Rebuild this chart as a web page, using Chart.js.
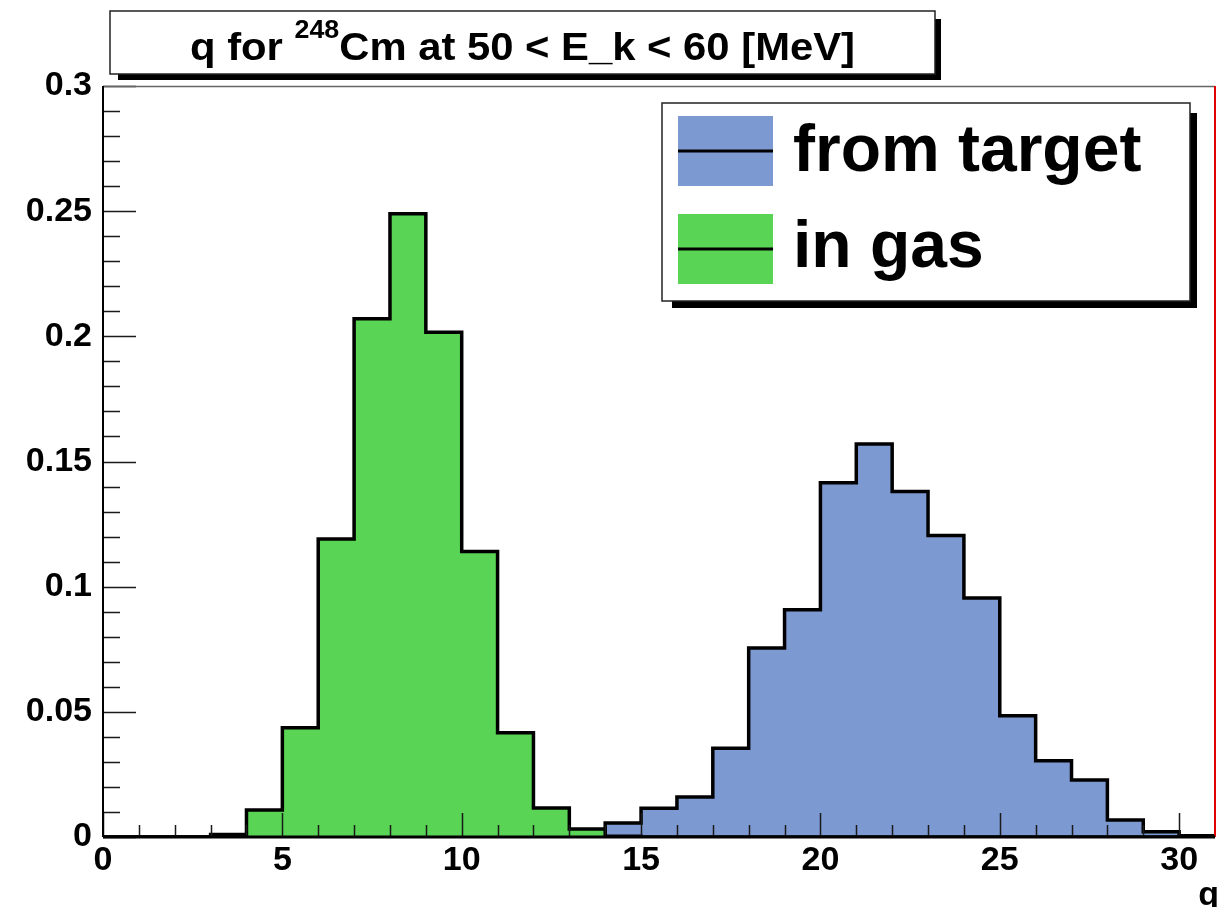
<!DOCTYPE html>
<html>
<head>
<meta charset="utf-8">
<script src="https://cdn.jsdelivr.net/npm/chart.js@4.4.1/dist/chart.umd.min.js"></script>
<style>
  html, body { margin: 0; padding: 0; background: #fff; }
  #wrap { width: 1227px; height: 907px; }
</style>
</head>
<body>
<div id="wrap"><canvas id="qChart" width="1227" height="907"></canvas></div>
<script>
'use strict';

// bin edges of the charge-state histograms (31 bins of width 1)
var binEdges = [0, 1, 2, 3, 4, 5, 6, 7, 8, 9, 10, 11, 12, 13, 14, 15, 16, 17, 18, 19, 20,
                21, 22, 23, 24, 25, 26, 27, 28, 29, 30, 31];
var fromTarget = [0, 0, 0, 0, 0, 0, 0, 0, 0, 0, 0, 0, 0, 0,
                  0.0056, 0.0115, 0.016, 0.0355, 0.0755, 0.0908, 0.1415, 0.157, 0.138,
                  0.1204, 0.0955, 0.0484, 0.0305, 0.0228, 0.0068, 0.0021, 0.0005];
var inGas = [0, 0, 0, 0.001, 0.0108, 0.0436, 0.119, 0.207, 0.249, 0.2016, 0.114,
             0.0416, 0.0116, 0.0032, 0.0003, 0, 0, 0, 0, 0, 0, 0, 0, 0, 0, 0, 0, 0, 0, 0, 0];
var xTicks = [0, 5, 10, 15, 20, 25, 30];
var yTicks = [0, 0.05, 0.1, 0.15, 0.2, 0.25, 0.3];
var seriesNames = ['from target', 'in gas'];
var seriesColors = ['#7d99d1', '#59d454'];

var FONT = "'Liberation Sans', Arial, Helvetica, sans-serif";

// left edge of every bin carries its content, last edge closes the outline at zero
function toSteps(values) {
    var pts = [];
    for (var i = 0; i < values.length; ++i) {
        pts.push({ x: binEdges[i], y: values[i] });
    }
    pts.push({ x: binEdges[values.length], y: 0 });
    return pts;
}

function histDataset(label, values, color) {
    return {
        label: label,
        data: toSteps(values),
        stepped: true,
        fill: 'origin',
        backgroundColor: color,
        borderColor: '#000',
        borderWidth: 3.5,
        borderJoinStyle: 'miter',
        pointRadius: 0,
        pointHoverRadius: 0,
        tension: 0
    };
}

// ROOT style frame: inward ticks, grey top edge, red right edge
var framePlugin = {
    id: 'frame',
    afterDatasetsDraw: function (chart) {
        var ctx = chart.ctx;
        var area = chart.chartArea;
        var xs = chart.scales.x;
        var ys = chart.scales.y;
        ctx.save();
        ctx.strokeStyle = '#1a1a1a';
        ctx.lineWidth = 1.5;
        ctx.beginPath();
        for (var q = 0; q <= 30; ++q) {
            var px = Math.round(xs.getPixelForValue(q)) + 0.5;
            var len = (q % 5 === 0) ? 24 : 12;
            ctx.moveTo(px, area.bottom);
            ctx.lineTo(px, area.bottom - len);
        }
        for (var k = 0; k <= 30; ++k) {
            var py = Math.round(ys.getPixelForValue(k / 100)) + 0.5;
            var ylen = (k % 5 === 0) ? 33 : 17;
            ctx.moveTo(area.left, py);
            ctx.lineTo(area.left + ylen, py);
        }
        ctx.stroke();

        ctx.lineWidth = 1.5;
        ctx.strokeStyle = '#666';
        ctx.beginPath();
        ctx.moveTo(area.left, area.top + 0.5);
        ctx.lineTo(area.right, area.top + 0.5);
        ctx.stroke();

        ctx.strokeStyle = '#e00000';
        ctx.lineWidth = 2;
        ctx.beginPath();
        ctx.moveTo(area.right, area.top);
        ctx.lineTo(area.right, area.bottom);
        ctx.stroke();

        ctx.strokeStyle = '#000';
        ctx.lineWidth = 2;
        ctx.beginPath();
        ctx.moveTo(area.left, area.top);
        ctx.lineTo(area.left, area.bottom);
        ctx.stroke();
        ctx.lineWidth = 3;
        ctx.beginPath();
        ctx.moveTo(area.left, area.bottom);
        ctx.lineTo(area.right, area.bottom);
        ctx.stroke();
        ctx.restore();
    },
    afterDraw: function (chart) {
        var ctx = chart.ctx;
        ctx.save();

        // title pave
        drawPave(ctx, 110, 11, 935, 74, 8, 6);
        var main1 = 'q for ';
        var sup = '248';
        var main2 = 'Cm at 50 < E_k < 60 [MeV]';
        ctx.font = 'bold 39px ' + FONT;
        var w1 = ctx.measureText(main1).width;
        var w3 = ctx.measureText(main2).width;
        ctx.font = 'bold 25px ' + FONT;
        var w2 = ctx.measureText(sup).width;
        var natural = w1 + w2 + w3;
        var target = 665;
        var sx = target / natural;
        ctx.save();
        ctx.translate(190, 0);
        ctx.scale(sx, 1);
        ctx.fillStyle = '#000';
        ctx.textBaseline = 'alphabetic';
        ctx.textAlign = 'left';
        ctx.font = 'bold 39px ' + FONT;
        ctx.fillText(main1, 0, 60);
        ctx.font = 'bold 25px ' + FONT;
        ctx.fillText(sup, w1, 38);
        ctx.font = 'bold 39px ' + FONT;
        ctx.fillText(main2, w1 + w2, 60);
        ctx.restore();

        // legend pave
        drawPave(ctx, 662, 103, 1190, 301, 10, 7);
        var rows = [{ top: 116, bottom: 186, base: 171 }, { top: 214, bottom: 284, base: 267 }];
        for (var i = 0; i < seriesNames.length; ++i) {
            var r = rows[i];
            ctx.fillStyle = seriesColors[i];
            ctx.fillRect(678, r.top, 95, r.bottom - r.top);
            ctx.strokeStyle = '#000';
            ctx.lineWidth = 3;
            ctx.beginPath();
            ctx.moveTo(678, (r.top + r.bottom) / 2);
            ctx.lineTo(773, (r.top + r.bottom) / 2);
            ctx.stroke();
            ctx.fillStyle = '#000';
            ctx.font = 'bold 66px ' + FONT;
            ctx.textAlign = 'left';
            ctx.textBaseline = 'alphabetic';
            ctx.fillText(seriesNames[i], 793, r.base);
        }

        // x axis title
        ctx.font = 'bold 34px ' + FONT;
        ctx.textAlign = 'right';
        ctx.textBaseline = 'alphabetic';
        ctx.fillStyle = '#000';
        ctx.fillText('q', 1219, 905);
        ctx.restore();
    }
};

function drawPave(ctx, x1, y1, x2, y2, shOff, shExt) {
    ctx.fillStyle = '#000';
    ctx.fillRect(x1 + shOff, y1 + shOff, (x2 + shExt) - (x1 + shOff), (y2 + shExt) - (y1 + shOff));
    ctx.fillStyle = '#fff';
    ctx.fillRect(x1, y1, x2 - x1, y2 - y1);
    ctx.strokeStyle = '#222';
    ctx.lineWidth = 1.5;
    ctx.strokeRect(x1, y1, x2 - x1, y2 - y1);
}

var ctx = document.getElementById('qChart').getContext('2d');
var chart = new Chart(ctx, {
    type: 'line',
    data: {
        datasets: [
            histDataset(seriesNames[1], inGas, seriesColors[1]),
            histDataset(seriesNames[0], fromTarget, seriesColors[0])
        ]
    },
    options: {
        responsive: false,
        animation: false,
        events: [],
        layout: { padding: { top: 86, right: 12, left: 0, bottom: 0 } },
        plugins: {
            legend: { display: false },
            title: { display: false },
            tooltip: { enabled: false }
        },
        scales: {
            x: {
                type: 'linear',
                min: 0,
                max: 31,
                afterBuildTicks: function (s) { s.ticks = xTicks.map(function (v) { return { value: v }; }); },
                afterFit: function (s) { s.height = 70; },
                grid: { display: false, drawTicks: false, tickLength: 0 },
                border: { display: false },
                ticks: {
                    color: '#000',
                    font: { family: FONT, size: 34, weight: 'bold' },
                    padding: 3,
                    maxRotation: 0,
                    autoSkip: false
                }
            },
            y: {
                type: 'linear',
                min: 0,
                max: 0.3,
                afterBuildTicks: function (s) { s.ticks = yTicks.map(function (v) { return { value: v }; }); },
                afterFit: function (s) { s.width = 103; },
                grid: { display: false, drawTicks: false, tickLength: 0 },
                border: { display: false },
                ticks: {
                    color: '#000',
                    font: { family: FONT, size: 34, weight: 'bold' },
                    padding: 11,
                    autoSkip: false,
                    callback: function (v) { return String(+Number(v).toFixed(2)); }
                }
            }
        }
    },
    plugins: [framePlugin]
});
</script>
</body>
</html>
